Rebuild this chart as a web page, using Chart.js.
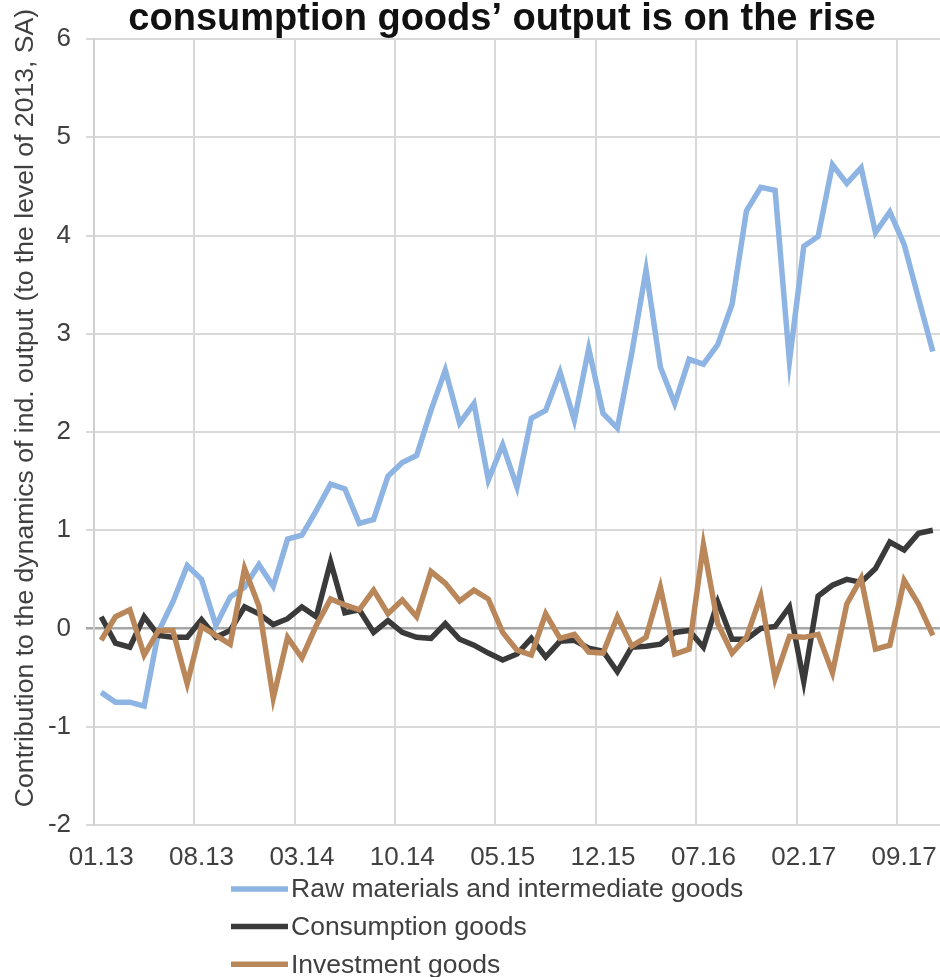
<!DOCTYPE html>
<html>
<head>
<meta charset="utf-8">
<script src="https://cdn.jsdelivr.net/npm/chart.js@4.4.1/dist/chart.umd.min.js"></script>
<style>
  html, body { margin: 0; padding: 0; background: #fff; }
  #wrap { position: relative; width: 940px; height: 977px; }
</style>
</head>
<body>
<div id="wrap"><canvas id="outputChart"></canvas></div>
<script>
// months, 01.13 .. 11.17
var months = [
  '01.13','02.13','03.13','04.13','05.13','06.13','07.13','08.13','09.13','10.13','11.13','12.13',
  '01.14','02.14','03.14','04.14','05.14','06.14','07.14','08.14','09.14','10.14','11.14','12.14',
  '01.15','02.15','03.15','04.15','05.15','06.15','07.15','08.15','09.15','10.15','11.15','12.15',
  '01.16','02.16','03.16','04.16','05.16','06.16','07.16','08.16','09.16','10.16','11.16','12.16',
  '01.17','02.17','03.17','04.17','05.17','06.17','07.17','08.17','09.17','10.17','11.17'
];

var rawMaterials = [
  -0.65,-0.75,-0.75,-0.79,-0.03,0.27,0.64,0.50,0.03,0.32,0.42,0.65,
  0.43,0.91,0.95,1.20,1.47,1.42,1.07,1.11,1.55,1.69,1.76,2.22,
  2.63,2.09,2.29,1.51,1.87,1.44,2.14,2.22,2.61,2.12,2.85,2.19,
  2.04,2.80,3.65,2.66,2.29,2.74,2.69,2.89,3.30,4.25,4.49,4.46,
  2.72,3.89,3.99,4.72,4.53,4.69,4.03,4.24,3.91,3.36,2.82
];

var consumption = [
  0.12,-0.15,-0.19,0.12,-0.07,-0.09,-0.09,0.09,-0.09,-0.02,0.22,0.15,
  0.04,0.10,0.22,0.12,0.68,0.16,0.19,-0.04,0.08,-0.04,-0.09,-0.10,
  0.05,-0.11,-0.17,-0.25,-0.32,-0.26,-0.10,-0.29,-0.13,-0.12,-0.20,-0.23,
  -0.44,-0.19,-0.18,-0.16,-0.04,-0.02,-0.19,0.27,-0.11,-0.11,0.00,0.02,
  0.22,-0.54,0.33,0.44,0.50,0.47,0.61,0.88,0.80,0.97,1.00
];

var investment = [
  -0.12,0.12,0.19,-0.27,-0.02,-0.02,-0.56,0.02,-0.07,-0.16,0.61,0.23,
  -0.71,-0.09,-0.30,0.03,0.30,0.24,0.19,0.39,0.15,0.29,0.12,0.58,
  0.46,0.28,0.39,0.30,-0.04,-0.22,-0.27,0.15,-0.10,-0.06,-0.24,-0.25,
  0.12,-0.18,-0.09,0.42,-0.26,-0.21,0.85,0.05,-0.25,-0.09,0.33,-0.51,
  -0.08,-0.09,-0.06,-0.45,0.25,0.51,-0.21,-0.17,0.49,0.25,-0.07
];

var seriesNames = ['Raw materials and intermediate goods', 'Consumption goods', 'Investment goods'];
var seriesColors = ['#8db4e2', '#3a3a3a', '#b9875a'];

var chartTitle = 'consumption goods\u2019 output is on the rise';
var yAxisTitle = 'Contribution to the dynamics of ind. output (to the level of 2013, SA)';

var labelEvery = 7;
var textColor = '#404040';
var fontName = '"Liberation Sans", Arial, sans-serif';

// title, rotated y title and the stacked legend are drawn by hand
var textLayer = {
  id: 'textLayer',
  afterDraw: function(chart) {
    var ctx = chart.ctx;
    ctx.save();

    ctx.fillStyle = '#111';
    ctx.font = 'bold 38px ' + fontName;
    ctx.textAlign = 'center';
    ctx.textBaseline = 'middle';
    ctx.fillText(chartTitle, 502, 20);

    ctx.translate(26, 408);
    ctx.rotate(-Math.PI / 2);
    ctx.fillStyle = textColor;
    ctx.font = '26.6px ' + fontName;
    ctx.fillText(yAxisTitle, 0, 0);
    ctx.setTransform(1, 0, 0, 1, 0, 0);

    ctx.textAlign = 'left';
    ctx.font = '26.5px ' + fontName;
    chart.data.datasets.forEach(function(ds, i) {
      var y = 889 + i * 37.6;
      ctx.strokeStyle = ds.borderColor;
      ctx.lineWidth = 5.5;
      ctx.beginPath();
      ctx.moveTo(231, y);
      ctx.lineTo(288, y);
      ctx.stroke();
      ctx.fillStyle = textColor;
      ctx.fillText(ds.label, 291, y + 1);
    });
    ctx.restore();
  }
};

var ctx = document.getElementById('outputChart');
new Chart(ctx, {
  type: 'line',
  data: {
    labels: months,
    datasets: [
      { label: seriesNames[0], data: rawMaterials, borderColor: seriesColors[0], order: 3 },
      { label: seriesNames[1], data: consumption, borderColor: seriesColors[1], order: 2 },
      { label: seriesNames[2], data: investment, borderColor: seriesColors[2], order: 1 }
    ]
  },
  options: {
    responsive: true,
    maintainAspectRatio: false,
    animation: false,
    layout: { padding: { top: 39, left: 0, right: 0, bottom: 0 } },
    elements: {
      line: { borderWidth: 5.5, tension: 0, fill: false },
      point: { radius: 0, hoverRadius: 0 }
    },
    plugins: {
      legend: { display: false },
      title: { display: false },
      tooltip: { enabled: false }
    },
    scales: {
      x: {
        offset: true,
        afterFit: function(scale) {
          scale.height = 152;
          scale.paddingLeft = 0;
          scale.paddingRight = 0;
        },
        border: { display: false },
        grid: {
          offset: true,
          drawTicks: false,
          lineWidth: 2,
          color: function(c) {
            return (c.index % labelEvery === 0 && c.index < months.length) ? '#d9d9d9' : 'rgba(0,0,0,0)';
          }
        },
        ticks: {
          autoSkip: false,
          maxRotation: 0,
          padding: 17,
          color: textColor,
          font: { family: fontName, size: 26 },
          callback: function(v, i) { return i % labelEvery === 0 ? months[i] : ''; }
        }
      },
      y: {
        min: -2,
        max: 6,
        afterFit: function(scale) { scale.width = 94; },
        border: { color: '#d0d0d0', width: 2 },
        grid: {
          tickLength: 8,
          lineWidth: function(c) { return c.tick && c.tick.value === 0 ? 2.5 : 2; },
          color: function(c) { return c.tick && c.tick.value === 0 ? '#a6a6a6' : '#d9d9d9'; }
        },
        ticks: {
          stepSize: 1,
          padding: 15,
          color: textColor,
          font: { family: fontName, size: 26 }
        }
      }
    }
  },
  plugins: [textLayer]
});
</script>
</body>
</html>
